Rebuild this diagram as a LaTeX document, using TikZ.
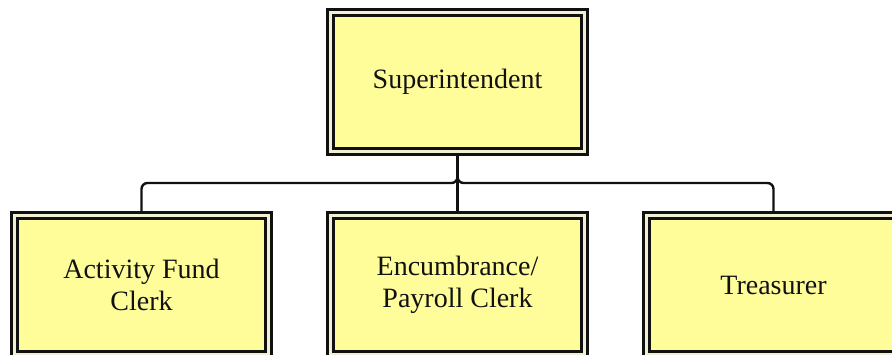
\documentclass[tikz,border=0pt]{standalone}
\usepackage{fontspec}
\setmainfont{Liberation Serif}
\usetikzlibrary{backgrounds}
\definecolor{boxfill}{HTML}{FFFD9A}
\definecolor{gapcream}{HTML}{F2EFD3}
\definecolor{inkline}{HTML}{111111}
\tikzset{
  role/.style={draw=inkline, line width=1.9pt, double=gapcream, double distance=2.4pt,
    fill=boxfill, minimum width=190.5pt, minimum height=104.25pt, inner sep=0pt,
    align=center, text=inkline, font=\fontsize{21}{24}\selectfont},
  link/.style={draw=inkline, line width=1.8pt, rounded corners=4.5pt}
}
\begin{document}
\begin{tikzpicture}[x=0.75pt, y=-0.75pt]
  \useasboundingbox (0,0) rectangle (892,354);
  \clip (0,0) rectangle (892,354);

  % boxes
  \node[role] (sup)   at (457.5,82)  {Superintendent};
  \node[role] (fund)  at (141.5,285) {Activity Fund\\Clerk};
  \node[role] (pay)   at (457.5,285) {Encumbrance/\\Payroll Clerk};
  \node[role] (treas) at (773.5,285) {Treasurer};

  % reporting lines, kept behind the boxes
  \begin{scope}[on background layer]
    \fill[white] (0,0) rectangle (892,354);
    \coordinate (bus) at (457.5,183);
    \draw[link] (sup.south) -- (bus) -| (fund.north);
    \draw[link] (sup.south) -- (bus) -| (treas.north);
    \draw[link] (sup.south) -- (pay.north);
  \end{scope}
\end{tikzpicture}
\end{document}
